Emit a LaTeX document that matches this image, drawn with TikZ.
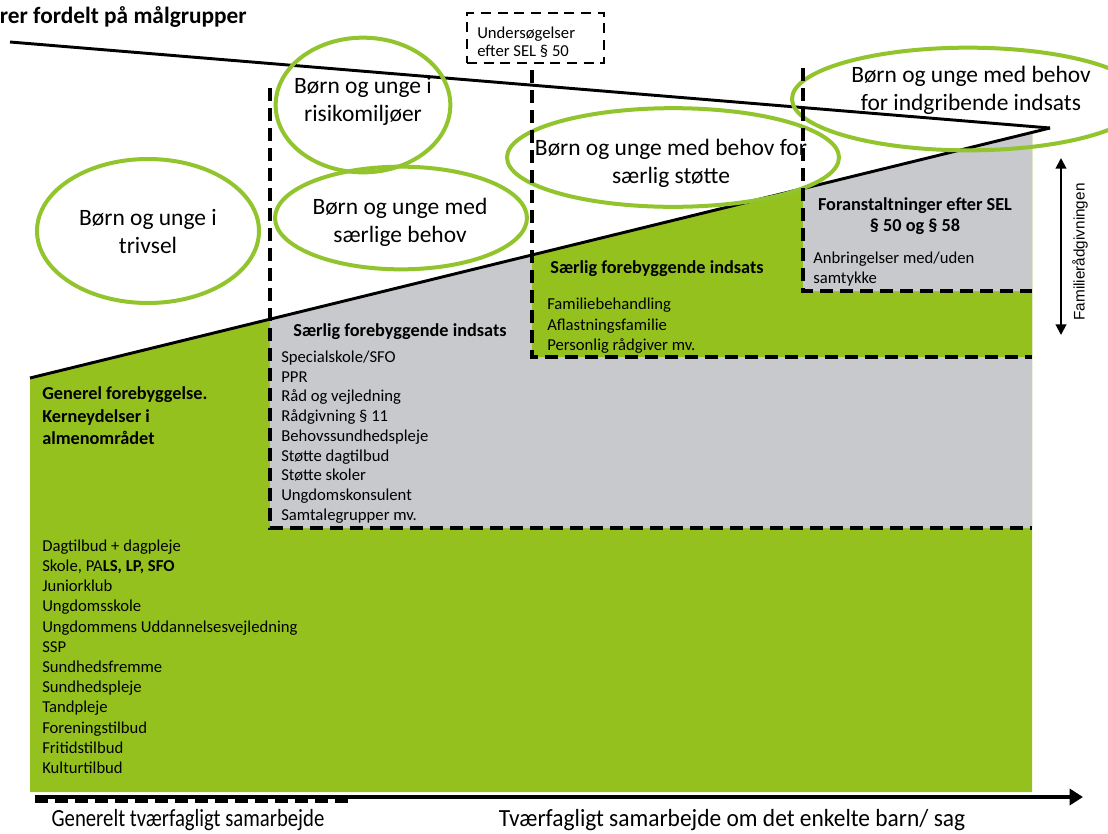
\documentclass[tikz,border=0pt]{standalone}
\usepackage{fontspec}
\setmainfont{Carlito}
\newfontfamily\lsans{Liberation Sans}
\newfontfamily\condensed[FakeStretch=0.84]{Carlito}
\newfontfamily\condensedb[FakeStretch=0.95]{Carlito}
\usetikzlibrary{arrows.meta,calc,shapes.geometric}
\definecolor{gfill}{RGB}{149,193,31}
\definecolor{gline}{RGB}{146,196,45}
\definecolor{gbox}{RGB}{200,201,204}
\begin{document}
\begin{tikzpicture}[x=0.75pt,y=-0.75pt,
  dashline/.style={line width=3pt,dash pattern=on 9.5pt off 5.5pt},
  slant/.style={line width=2.2pt},
  oval/.style={ellipse,draw=gline,line width=3pt,inner sep=0pt},
  ovaltext/.style={align=center,inner sep=0pt,font=\fontsize{17.6}{21}\selectfont},
  listtext/.style={align=left,anchor=north west,inner sep=0pt},
  headtext/.style={align=center,inner sep=0pt,font=\bfseries\fontsize{13.7}{16.5}\selectfont},
  ubox/.style={draw,line width=2pt,dash pattern=on 7.5pt off 5pt,inner sep=0pt},
]
\useasboundingbox (0,0) rectangle (1108,833);
\fill[white] (0,0) rectangle (1108,833);

\coordinate (P) at (30,378);
\coordinate (Q) at (1050,128);
\coordinate (T0) at (10,42);

% filled regions
\fill[gfill] (P) -- ($(P)!0.98235!(Q)$) -- (1032,792) -- (30,792) -- cycle;
\fill[gbox] ($(P)!0.23529!(Q)$) -- ($(P)!0.98235!(Q)$) -- (1032,528) -- (270,528) -- cycle;
\fill[gfill] ($(P)!0.49216!(Q)$) -- ($(P)!0.98235!(Q)$) -- (1032,357) -- (532,357) -- cycle;
\fill[gbox] ($(P)!0.75784!(Q)$) -- ($(P)!0.98235!(Q)$) -- (1032,291) -- (803,291) -- cycle;

% slanted lines
\draw[slant] (P) -- (Q);
\draw[slant] (T0) -- (Q);

% ellipses
\node[oval,minimum width=166.5pt,minimum height=108pt] (e1) at (148,231) {};
\node[oval,minimum width=131pt,minimum height=101pt] (e2) at (363,105) {};
\node[oval,minimum width=189pt,minimum height=77pt] (e3) at (401,218) {};
\node[oval,minimum width=249pt,minimum height=74pt] (e4) at (673,157.5) {};
\node[oval,minimum width=264pt,minimum height=77pt] (e5) at (968,99) {};

\node[ovaltext] (t1) at (148,232) {Børn og unge i\\trivsel};
\node[ovaltext] (t2) at (363,101) {Børn og unge i\\risikomiljøer};
\node[ovaltext] (t3) at (400,222) {Børn og unge med\\særlige behov};
\node[ovaltext] (t4) at (671,163) {Børn og unge med behov for\\særlig støtte};
\node[ovaltext] (t5) at (971,90) {Børn og unge med behov\\for indgribende indsats};

% dashed borders
\draw[dashline] (270,88) -- (270,528) -- (1032,528);
\draw[dashline] (532,70) -- (532,357) -- (1032,357);
\draw[dashline] (803,68) -- (803,291) -- (1032,291);

% Undersøgelser box
\node[ubox,minimum width=102.75pt,minimum height=37.5pt] (ub) at (535.5,38) {};
\node[listtext,anchor=west,font=\fontsize{12.5}{13.5}\selectfont] (ut) at (477,42.5) {Undersøgelser\\efter SEL § 50};

% title
\node[anchor=base east,inner sep=0pt,font=\bfseries\fontsize{17.5}{20}\selectfont] (title) at (247,23) {rer fordelt på målgrupper};

% headers
\node[headtext] (hA) at (400,332) {Særlig forebyggende indsats};
\node[headtext] (hB) at (657,269) {Særlig forebyggende indsats};
\node[headtext,font=\bfseries\fontsize{13.7}{16.2}\selectfont] (hC) at (915,216) {Foranstaltninger efter SEL\\§ 50 og § 58};
\node[listtext,font=\bfseries\fontsize{13.7}{17.2}\selectfont] (hG) at (42,386) {Generel forebyggelse.\\Kerneydelser i\\almenområdet};

% lists
\node[listtext,font=\fontsize{12.5}{15.15}\selectfont] (lG) at (42,539.5) {Dagtilbud + dagpleje\\Skole, PA\textbf{LS, LP, SFO}\\Juniorklub\\Ungdomsskole\\Ungdommens Uddannelsesvejledning\\SSP\\Sundhedsfremme\\Sundhedspleje\\Tandpleje\\Foreningstilbud\\Fritidstilbud\\Kulturtilbud};
\node[listtext,font=\fontsize{12.5}{14.8}\selectfont] (lA) at (281,350.5) {Specialskole/SFO\\PPR\\Råd og vejledning\\Rådgivning § 11\\Behovssundhedspleje\\Støtte dagtilbud\\Støtte skoler\\Ungdomskonsulent\\Samtalegrupper mv.};
\node[listtext,font=\fontsize{12.5}{15.4}\selectfont] (lB) at (547,298) {Familiebehandling\\Aflastningsfamilie\\Personlig rådgiver mv.};
\node[listtext,font=\fontsize{12.5}{15}\selectfont] (lC) at (813,251.5) {Anbringelser med/uden\\samtykke};

% family counselling arrow
\coordinate (fa0) at (1061,158);
\coordinate (fa1) at (1061,335);
\draw[line width=1.5pt,{Triangle[length=8pt,width=8pt]}-{Triangle[length=8pt,width=8pt]}] (fa0) -- (fa1);
\node[inner sep=0pt,rotate=90,font=\lsans\fontsize{11.5}{13}\selectfont] (fl) at (1080,252) {Familierådgivningen};

% bottom axis
\coordinate (ax0) at (35,797);
\coordinate (ax1) at (1083,797);
\draw[dashline,line width=2.5pt] (35,801) -- (352,801);
\draw[line width=3pt,-{Triangle[length=10pt,width=12pt]}] (ax0) -- (ax1);

\node[anchor=base,inner sep=0pt,font=\condensed\fontsize{18.5}{20}\selectfont] (b1) at (188,826) {Generelt tværfagligt samarbejde};
\node[anchor=base,inner sep=0pt,font=\condensedb\fontsize{18.5}{20}\selectfont] (b2) at (732,826) {Tværfagligt samarbejde om det enkelte barn/ sag};
\end{tikzpicture}
\end{document}
